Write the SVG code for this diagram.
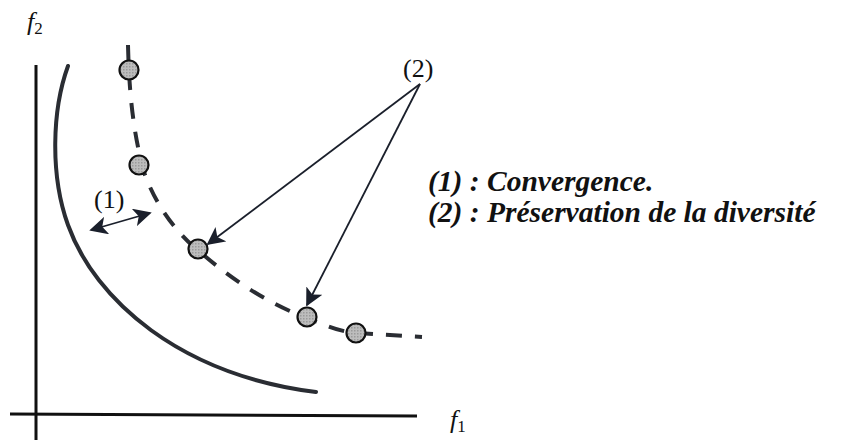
<svg xmlns="http://www.w3.org/2000/svg" width="842" height="440" viewBox="0 0 842 440">
<defs>
<marker id="ah" viewBox="0 0 10 10" refX="9" refY="5" markerWidth="18" markerHeight="18" markerUnits="userSpaceOnUse" orient="auto-start-reverse">
<path d="M0,0 L10,5 L0,10 L2.5,5 z" fill="#1a1f2b"/>
</marker>
<pattern id="stip" width="3" height="3" patternUnits="userSpaceOnUse">
<rect width="3" height="3" fill="#bdbdbd"/>
<rect width="1.5" height="1.5" fill="#9a9a9a"/>
</pattern>
</defs>
<style>
.axis{stroke:#111;stroke-width:3;fill:none}
.front{stroke:#2a2d33;stroke-width:4;fill:none;stroke-linecap:round}
.approx{stroke:#2a2d33;stroke-width:4;fill:none;stroke-dasharray:16 13}
.pt{fill:url(#stip);stroke:#111;stroke-width:2.2}
.arr{stroke:#1a1f2b;stroke-width:1.8;fill:none}
.lbl{font-family:"Liberation Serif",serif;font-size:26px;fill:#111}
.math{font-family:"Liberation Serif",serif;font-style:italic;fill:#111}
.leg{font-family:"Liberation Serif",serif;font-weight:bold;font-style:italic;font-size:29.5px;fill:#111}
</style>
<rect width="842" height="440" fill="#ffffff"/>
<g id="axes">
<line class="axis" x1="36" y1="65" x2="36" y2="440"/>
<line class="axis" x1="10" y1="414" x2="417" y2="416"/>
<text class="math" x="27" y="30" font-size="26">f<tspan font-size="17" font-style="normal" dy="4">2</tspan></text>
<text class="math" x="450" y="428" font-size="26">f<tspan font-size="17" font-style="normal" dy="4">1</tspan></text>
</g>
<g id="pareto-front">
<path class="front" d="M68,66 C52,110 50,175 68,225 C95,300 180,375 316,392"/>
</g>
<g id="approx-front">
<path class="approx" d="M128,45 C129,90 133,135 145,175 C158,210 180,236 200,252 C230,278 268,304 307,318 C325,325 340,332 357,333 L422,337"/>
</g>
<g id="points">
<circle class="pt" cx="129" cy="70" r="9.5"/>
<circle class="pt" cx="139" cy="165" r="9.5"/>
<circle class="pt" cx="198" cy="249" r="9.5"/>
<circle class="pt" cx="307" cy="317" r="9.5"/>
<circle class="pt" cx="356" cy="333" r="9.5"/>
</g>
<g id="connectors">
<line class="arr" x1="420" y1="84" x2="208" y2="244" marker-end="url(#ah)"/>
<line class="arr" x1="420" y1="84" x2="307" y2="305" marker-end="url(#ah)"/>
<line class="arr" x1="91" y1="230" x2="150" y2="213" marker-start="url(#ah)" marker-end="url(#ah)"/>
</g>
<g id="labels">
<text class="lbl" x="94" y="208">(1)</text>
<text class="lbl" x="403" y="77">(2)</text>
</g>
<g id="legend">
<text class="leg" x="428" y="191">(1) : Convergence.</text>
<text class="leg" x="428" y="222">(2) : Préservation de la diversité</text>
</g>
</svg>
